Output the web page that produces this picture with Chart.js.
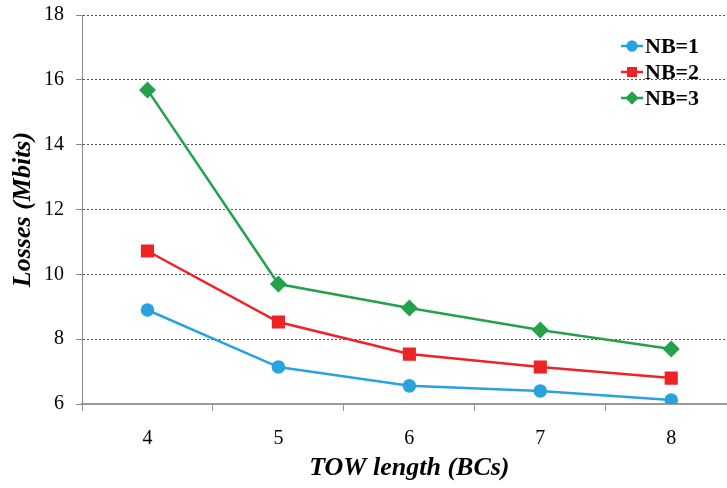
<!DOCTYPE html>
<html><head><meta charset="utf-8">
<script src="https://cdn.jsdelivr.net/npm/chart.js@4/dist/chart.umd.min.js"></script>
<style>html,body{margin:0;padding:0;overflow:hidden;background:#fff}#wrap{width:746px;height:488px}</style>
</head><body><div id="wrap"><canvas id="c" width="746" height="488"></canvas></div>
<script>
const categories = ['4','5','6','7','8'];
const nb1 = [8.90, 7.14, 6.56, 6.40, 6.12];
const nb2 = [10.72, 8.53, 7.54, 7.14, 6.80];
const nb3 = [15.69, 9.70, 8.96, 8.28, 7.70];
const seriesNames = ['NB=1','NB=2','NB=3'];
const colors = ['#29A3DF','#EE2326','#23A24B'];
const styles = ['circle','rect','rectRot'];
const radii = [6.8, 9.3, 8.5];
const F = '"Liberation Serif","Times New Roman",serif';

const legendPlugin = {
  id:'customLegend',
  afterDraw(chart){
    const ctx = chart.ctx;
    const ds = chart.data.datasets;
    const lr = [5.5, 7, 6.5];
    ctx.save();
    ds.forEach((d,i)=>{
      const y = 46 + i*26;
      ctx.strokeStyle = d.borderColor; ctx.lineWidth = 2.5;
      ctx.beginPath(); ctx.moveTo(621,y); ctx.lineTo(643,y); ctx.stroke();
      ctx.fillStyle = d.borderColor;
      Chart.helpers.drawPoint(ctx,{pointStyle:d.pointStyle,radius:lr[i],rotation:0,borderWidth:0},632,y);
      ctx.fill();
      ctx.fillStyle = '#000'; ctx.font = 'bold 22px '+F; ctx.textBaseline='middle'; ctx.textAlign='left';
      ctx.fillText(d.label, 645, y+1);
    });
    ctx.restore();
  }
};

const mk = (i,data)=>({label:seriesNames[i],data,borderColor:colors[i],backgroundColor:colors[i],
  pointStyle:styles[i],pointRadius:radii[i],pointHoverRadius:radii[i],borderWidth:2.5,pointBorderWidth:0,tension:0});

new Chart(document.getElementById('c'),{
  type:'line',
  data:{labels:categories,datasets:[mk(0,nb1),mk(1,nb2),mk(2,nb3)]},
  options:{
    responsive:false,animation:false,
    layout:{padding:{top:15,right:0,left:0,bottom:0}},
    plugins:{legend:{display:false},tooltip:{enabled:false}},
    scales:{
      x:{offset:true,
        grid:{drawOnChartArea:false,drawTicks:true,tickLength:7,tickColor:'#999',offset:true},
        border:{color:'#999',width:2},
        ticks:{font:{family:F,size:20},color:'#000',padding:16},
        title:{display:true,text:'TOW length (BCs)',font:{family:F,size:26,style:'italic',weight:'bold'},color:'#000',padding:{top:2}},
        afterFit(s){s.height=84;s.paddingRight=0;s.paddingLeft=0;}
      },
      y:{min:6,max:18,
        ticks:{stepSize:2,font:{family:F,size:20},color:'#000',padding:12},
        grid:{color:'#555',lineWidth:1,tickLength:6,tickColor:'#888',tickBorderDash:[]},
        border:{color:'#888',width:1,dash:[2,2]},
        title:{display:true,text:'Losses (Mbits)',font:{family:F,size:26,style:'italic',weight:'bold'},color:'#000',padding:{top:8,bottom:2}},
        afterFit(s){s.width=82;s.paddingTop=0;s.paddingBottom=0;}
      }
    }
  },
  plugins:[legendPlugin]
});
</script></body></html>
